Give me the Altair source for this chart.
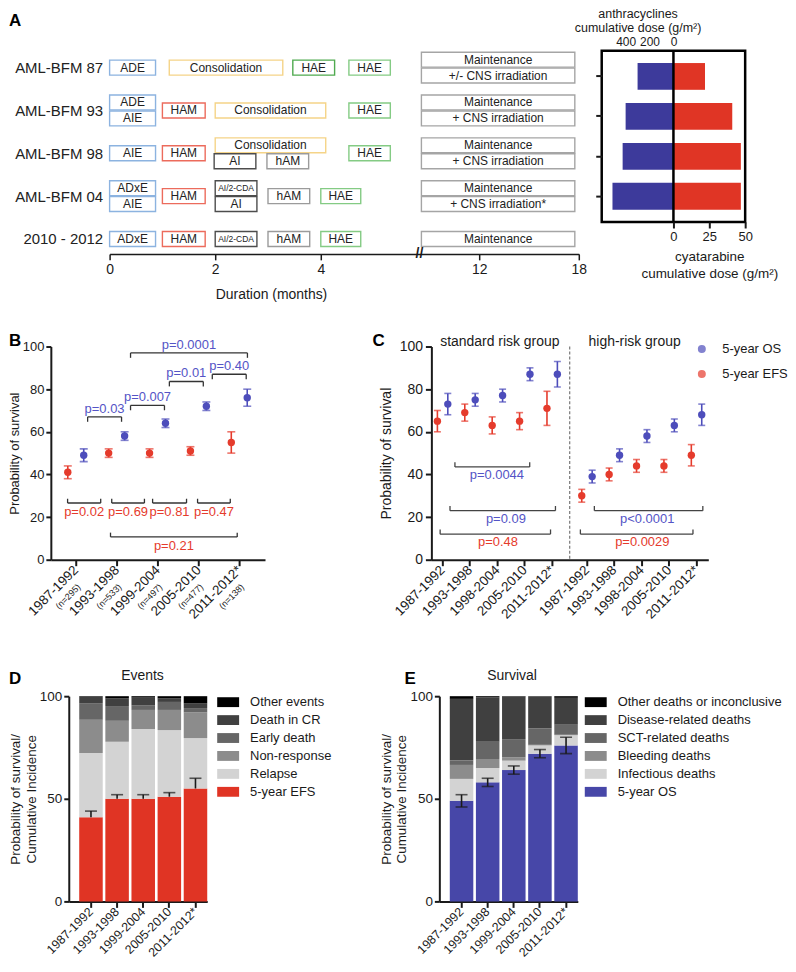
import json
import altair as alt
import numpy as np
import pandas as pd

FONT = "Liberation Sans"
INK = "#1a1a1a"
RED = "#E53B2C"
BLUE = "#4D4DBB"
PBLUE = "#5454C6"

# layout (page pixels)
P1 = 50          # top of the first row's plot areas
S1 = 30          # spacer between row 1 and row 2 bounding boxes
S2 = 48          # spacer between row 2 and row 3 bounding boxes
PAD_TOP = -4

# ===================== Panel A: treatment schema =====================
programs = ["AML-BFM 87", "AML-BFM 93", "AML-BFM 98", "AML-BFM 04", "2010 - 2012"]
blk_row = [0, 0, 0, 0, 0, 0,
           1, 1, 1, 1, 1, 1, 1,
           2, 2, 2, 2, 2, 2, 2, 2,
           3, 3, 3, 3, 3, 3, 3, 3, 3,
           4, 4, 4, 4, 4, 4]
blk_label = ["ADE", "Consolidation", "HAE", "HAE", "Maintenance", "+/- CNS irradiation",
             "ADE", "AIE", "HAM", "Consolidation", "HAE", "Maintenance", "+ CNS irradiation",
             "AIE", "HAM", "Consolidation", "AI", "hAM", "HAE", "Maintenance", "+ CNS irradiation",
             "ADxE", "AIE", "HAM", "AI/2-CDA", "AI", "hAM", "HAE", "Maintenance", "+ CNS irradiation*",
             "ADxE", "HAM", "AI/2-CDA", "hAM", "HAE", "Maintenance"]
blk_start = [0, 1.13, 3.47, 4.57, 6.2, 6.2,
             0, 0, 1.0, 2.0, 4.57, 6.2, 6.2,
             0, 1.0, 2.0, 1.98, 2.98, 4.57, 6.2, 6.2,
             0, 0, 1.0, 2.0, 2.0, 3.0, 4.0, 6.2, 6.2,
             0, 1.0, 2.0, 3.0, 4.0, 6.2]
blk_end = [0.87, 3.28, 4.28, 5.41, 17.76, 17.76,
           0.87, 0.87, 1.81, 4.1, 5.41, 17.76, 17.76,
           0.87, 1.81, 4.1, 2.77, 3.77, 5.41, 17.76, 17.76,
           0.87, 0.87, 1.81, 2.79, 2.79, 3.79, 4.81, 17.76, 17.76,
           0.87, 1.81, 2.79, 3.79, 4.81, 17.76]
blk_slot = ["full", "full", "full", "full", "top", "bottom",
            "top", "bottom", "full", "full", "full", "top", "bottom",
            "full", "full", "top", "bottom", "bottom", "full", "top", "bottom",
            "top", "bottom", "full", "top", "bottom", "full", "full", "top", "bottom",
            "full", "full", "full", "full", "full", "full"]
blk_kind = ["induction", "consolidation", "hae1", "hae", "maint", "maint",
            "induction", "induction", "ham", "consolidation", "hae", "maint", "maint",
            "induction", "ham", "consolidation", "ai", "ham_low", "hae", "maint", "maint",
            "induction", "induction", "ham", "ai", "ai", "ham_low", "hae", "maint", "maint",
            "induction", "ham", "ai", "ham_low", "hae", "maint"]
month_ticks = [0, 2, 4, 12, 18]
axis_break = [6]

# piecewise (broken) time axis
month_dom = [0, 4, 6, 12, 18]
px_rng = [5, 217, 316, 376, 476]

kind_color = {"induction": "#8CB3E0", "consolidation": "#F5D488", "hae1": "#4FAA4F",
              "hae": "#84CB84", "ham": "#EC6B5C", "ai": "#4D4D4D", "ham_low": "#9B9B9B",
              "maint": "#A5A5A5"}
slot_ext = {"full": (-0.175, 0.175), "top": (-0.36, -0.012), "bottom": (0.012, 0.36)}


def m2p(m):
    return np.interp(m, month_dom, px_rng)


def p2m(p):
    return np.interp(p, px_rng, month_dom)


sch = pd.DataFrame(dict(row=blk_row, label=blk_label, start=blk_start, end=blk_end,
                        slot=blk_slot, kind=blk_kind))
sch["y0"] = sch["row"] + sch["slot"].map(lambda s: slot_ext[s][0])
sch["y1"] = sch["row"] + sch["slot"].map(lambda s: slot_ext[s][1])
sch["yc"] = (sch["y0"] + sch["y1"]) / 2
sch["tx"] = p2m((m2p(sch["start"]) + m2p(sch["end"])) / 2)
sch["fs"] = np.where(sch["label"] == "AI/2-CDA", 8.5, 12)
sch["col"] = sch["kind"].map(kind_color)


def letter(ch, x, y):
    return alt.Chart(pd.DataFrame({"t": [ch]})).mark_text(
        fontSize=17, fontWeight="bold", align="left", baseline="top", color="black"
    ).encode(text="t:N", x=alt.value(x), y=alt.value(y))


def heading(txt, x, y):
    return alt.Chart(pd.DataFrame({"t": [txt]})).mark_text(
        fontSize=14, align="center", baseline="middle", color=INK
    ).encode(text="t:N", x=alt.value(x), y=alt.value(y))


SCH_H = 254 - P1
row0_off = (67 - P1) / 43.0
sx = alt.Scale(domain=month_dom, range=px_rng, nice=False, zero=False)
sy = alt.Scale(domain=[-row0_off, (254 - 67) / 43.0], reverse=True, nice=False, zero=False)
ax_sx = alt.Axis(values=month_ticks, format="d", labelFontSize=14, tickSize=6, tickWidth=1.5,
                 domainWidth=1.5, labelPadding=3, title="Duration (months)", titleFontSize=14,
                 titleX=167, titleY=34, titleBaseline="top", titleAlign="center")
ax_sy = alt.Axis(values=list(range(len(programs))),
                 labelExpr=json.dumps(programs) + "[round(datum.value)]",
                 domain=False, ticks=False, labelFontSize=15, labelPadding=2, title=None,
                 labelColor="#222222")

sbase = alt.Chart(sch)
boxes = sbase.mark_rect(fill="white", strokeWidth=1.4).encode(
    x=alt.X("start:Q", scale=sx, axis=ax_sx), x2="end:Q",
    y=alt.Y("y0:Q", scale=sy, axis=ax_sy), y2="y1:Q",
    stroke=alt.Stroke("col:N", scale=None))
btxt = sbase.mark_text(baseline="middle", align="center", color="#222222").encode(
    x=alt.X("tx:Q", scale=sx, axis=ax_sx), y=alt.Y("yc:Q", scale=sy, axis=ax_sy),
    text="label:N", size=alt.Size("fs:Q", scale=None))
brk = alt.Chart(pd.DataFrame({"m": axis_break})).mark_text(
    text="//", fontSize=14, fontWeight="bold", color=INK, baseline="middle").encode(
    x=alt.X("m:Q", scale=sx, axis=ax_sx), y=alt.value(SCH_H))
schema = alt.layer(boxes, btxt, brk, letter("A", 8 - 104, 12 - P1)).properties(width=486, height=SCH_H)

# ===================== Panel A: cumulative doses =====================
dose_programs = ["AML-BFM 87", "AML-BFM 93", "AML-BFM 98", "AML-BFM 04"]
anthra_dose = [300, 400, 425, 510]
cytarabine_dose = [22, 41, 47, 47]
dose_df = pd.DataFrame({"prog": dose_programs, "anthra": anthra_dose, "cyta": cytarabine_dose})

DOSE_H = 222 - P1
sy_d = alt.Scale(domain=dose_programs, paddingInner=0.33, paddingOuter=0.31)
ax_yd = alt.Axis(labels=False, domain=False, tickSize=6, title=None)
sx_anth = alt.Scale(domain=[0, 600], range=[72, 0], nice=False, zero=True)
sx_cyt = alt.Scale(domain=[0, 50], range=[72, 144], nice=False, zero=True)
ax_anth = alt.Axis(orient="top", values=[0, 200, 400], domain=False, ticks=False, labelFontSize=12,
                   labelPadding=2, title=["anthracyclines", "cumulative dose (g/m²)"],
                   titleFontSize=12.5, titleLineHeight=14, titlePadding=1)
ax_cyt = alt.Axis(orient="bottom", values=[0, 25, 50], domain=False, tickSize=6, labelFontSize=13,
                  labelPadding=3, title=["cyatarabine", "cumulative dose (g/m²)"],
                  titleFontSize=13.5, titleLineHeight=17, titlePadding=6)

blue_bars = alt.Chart(dose_df).mark_bar(color="#3D3A9B").encode(
    x=alt.X("anthra:Q", scale=sx_anth, axis=ax_anth),
    y=alt.Y("prog:N", scale=sy_d, axis=ax_yd))
red_bars = alt.Chart(dose_df).mark_bar(color="#E03525").encode(
    x=alt.X("cyta:Q", scale=sx_cyt, axis=ax_cyt),
    y=alt.Y("prog:N", scale=sy_d, axis=ax_yd))
zero_line = alt.Chart(pd.DataFrame({"cyta": [0]})).mark_rule(color="black", strokeWidth=2.5).encode(
    x=alt.X("cyta:Q", scale=sx_cyt, axis=ax_cyt))
dose = alt.layer(blue_bars, alt.layer(red_bars, zero_line)).resolve_scale(x="independent").properties(
    width=144, height=DOSE_H, view=alt.ViewBackground(stroke="black", strokeWidth=2.5))

# ===================== Panel B =====================
b_periods = ["1987-1992", "1993-1998", "1999-2004", "2005-2010", "2011-2012*"]
b_n = ["(n=295)", "(n=533)", "(n=497)", "(n=477)", "(n=138)"]
b_efs = [41, 50, 50, 51, 55]
b_efs_lo = [38, 48, 48, 49, 50]
b_efs_hi = [44, 52, 52, 53, 60]
b_os = [49, 58, 64, 72, 76]
b_os_lo = [46, 56, 62, 70, 72]
b_os_hi = [52, 60, 66, 74, 80]

b_br_x1 = [0.29, 1.34, 2.29, 3.34, 1.34, -0.2, 0.88, 1.88, 2.98, 0.85]
b_br_x2 = [1.12, 2.17, 3.12, 4.17, 4.2, 0.61, 1.68, 2.71, 3.78, 3.95]
b_br_y = [67, 72.4, 83.6, 87, 97, 26.6, 26.6, 26.6, 26.6, 10.7]
b_br_lab = ["p=0.03", "p=0.007", "p=0.01", "p=0.40", "p=0.0001",
            "p=0.02", "p=0.69", "p=0.81", "p=0.47", "p=0.21"]
b_br_grp = ["OS"] * 5 + ["EFS"] * 5

ser_color = {"OS": BLUE, "EFS": RED}
lab_color = {"OS": PBLUE, "EFS": RED}
ser_off = {"OS": 0.195, "EFS": -0.195}


def points_df(idx, vals, los, his, ser, shift=0.0, off=None):
    off = off or ser_off
    return pd.DataFrame({"x": [i + shift + off[ser] for i in idx], "y": vals, "lo": los, "hi": his,
                         "hex": ser_color[ser], "series": "5-year " + ser})


def bracket_segments(x1s, x2s, ys, grps, tick_sign):
    rows = []
    for x1, x2, y, g in zip(x1s, x2s, ys, grps):
        t = tick_sign[g]
        rows.append({"x": x1, "x2": x2, "y": y, "y2": y})
        rows.append({"x": x1, "x2": x1, "y": y, "y2": y + t})
        rows.append({"x": x2, "x2": x2, "y": y, "y2": y + t})
    return pd.DataFrame(rows)


bpts = pd.concat([points_df(range(5), b_efs, b_efs_lo, b_efs_hi, "EFS"),
                  points_df(range(5), b_os, b_os_lo, b_os_hi, "OS")])
bseg = bracket_segments(b_br_x1, b_br_x2, b_br_y, b_br_grp, {"OS": -2.3, "EFS": 2.0})
blab = pd.DataFrame({"x": [(a + b) / 2 for a, b in zip(b_br_x1, b_br_x2)],
                     "y": [y + (3.9 if g == "OS" else -4.4) for y, g in zip(b_br_y, b_br_grp)],
                     "t": b_br_lab, "hex": [lab_color[g] for g in b_br_grp]})
bn = pd.DataFrame({"x": [i + 0.08 for i in range(5)], "t": b_n})

sx_b = alt.Scale(domain=[-0.61, 4.63], nice=False, zero=False)
sy_b = alt.Scale(domain=[0, 100], nice=False)
ax_xb = alt.Axis(values=list(range(5)), labelExpr=json.dumps(b_periods) + "[round(datum.value)]",
                 labelAngle=315, labelAlign="right", labelBaseline="middle", labelFontSize=13.5,
                 tickSize=6, labelPadding=2, title=None)
ax_yb = alt.Axis(values=[0, 20, 40, 60, 80, 100], labelFontSize=13, tickSize=5, labelPadding=2,
                 title="Probability of survival", titleFontSize=13, titlePadding=1)


def XB(f):
    return alt.X(f, scale=sx_b, axis=ax_xb)


def YB(f):
    return alt.Y(f, scale=sy_b, axis=ax_yb)


b_err = alt.Chart(bpts).mark_rule(strokeWidth=1.6).encode(
    x=XB("x:Q"), y=YB("lo:Q"), y2="hi:Q", color=alt.Color("hex:N", scale=None))
b_cap_lo = alt.Chart(bpts).mark_tick(orient="horizontal", size=8, thickness=1.6).encode(
    x=XB("x:Q"), y=YB("lo:Q"), color=alt.Color("hex:N", scale=None))
b_cap_hi = alt.Chart(bpts).mark_tick(orient="horizontal", size=8, thickness=1.6).encode(
    x=XB("x:Q"), y=YB("hi:Q"), color=alt.Color("hex:N", scale=None))
b_pt = alt.Chart(bpts).mark_circle(size=55, opacity=1).encode(
    x=XB("x:Q"), y=YB("y:Q"), color=alt.Color("hex:N", scale=None))
b_br = alt.Chart(bseg).mark_rule(color="#333333", strokeWidth=1.3).encode(
    x=XB("x:Q"), x2="x2:Q", y=YB("y:Q"), y2="y2:Q")
b_tx = alt.Chart(blab).mark_text(fontSize=13, baseline="middle").encode(
    x=XB("x:Q"), y=YB("y:Q"), text="t:N", color=alt.Color("hex:N", scale=None))
b_nt = alt.Chart(bn).mark_text(fontSize=9, angle=315, align="right", baseline="middle", color=INK).encode(
    x=XB("x:Q"), y=alt.value(240), text="t:N")
panelB = alt.layer(b_br, b_err, b_cap_lo, b_cap_hi, b_pt, b_tx, b_nt, letter("B", 8 - 50, -14)).properties(
    width=215, height=214)

# ===================== Panel C =====================
c_periods = ["1987-1992", "1993-1998", "1998-2004", "2005-2010", "2011-2012*"]
c_groups = ["standard risk group", "high-risk group"]
c_sr_efs = [65, 69, 63, 65, 71]
c_sr_efs_lo = [60, 65, 59, 61, 63]
c_sr_efs_hi = [70, 73, 67, 69, 79]
c_sr_os = [73, 75, 77, 87, 87]
c_sr_os_lo = [68, 72, 74, 84, 81]
c_sr_os_hi = [78, 78, 80, 90, 93]
c_hr_efs = [30, 40, 44, 44, 49]
c_hr_efs_lo = [27, 37, 41, 41, 44]
c_hr_efs_hi = [33, 43, 47, 47, 54]
c_hr_os = [39, 49, 58, 63, 68]
c_hr_os_lo = [36, 46, 55, 60, 63]
c_hr_os_hi = [42, 52, 61, 66, 73]

c_br_x1 = [0.46, 0.28, -0.08, 5.55, 5.04]
c_br_x2 = [3.19, 4.13, 3.95, 9.51, 9.15]
c_br_y = [43.5, 23, 12, 23, 12]
c_br_lab = ["p=0.0044", "p=0.09", "p=0.48", "p<0.0001", "p=0.0029"]
c_br_grp = ["OS", "OS", "EFS", "OS", "EFS"]
c_br_lx = [1.99, 2.32, 2.03, 7.48, 7.3]

HR_SHIFT = 5.27
c_off = {"OS": 0.2, "EFS": -0.18}
cpts = pd.concat([
    points_df(range(5), c_sr_efs, c_sr_efs_lo, c_sr_efs_hi, "EFS", 0, c_off),
    points_df(range(5), c_sr_os, c_sr_os_lo, c_sr_os_hi, "OS", 0, c_off),
    points_df(range(5), c_hr_efs, c_hr_efs_lo, c_hr_efs_hi, "EFS", HR_SHIFT, c_off),
    points_df(range(5), c_hr_os, c_hr_os_lo, c_hr_os_hi, "OS", HR_SHIFT, c_off),
])
cseg = bracket_segments(c_br_x1, c_br_x2, c_br_y, c_br_grp, {"OS": 2.2, "EFS": 2.2})
clab = pd.DataFrame({"x": c_br_lx, "y": [y - 3.7 for y in c_br_y], "t": c_br_lab,
                     "hex": [lab_color[g] for g in c_br_grp]})
cgrp = pd.DataFrame({"x": [2.1, 7.02], "y": [102, 102], "t": c_groups})
c_div = pd.DataFrame({"x": [4.65]})

c_ticks = [float(i) for i in range(5)] + [i + HR_SHIFT for i in range(5)]
sx_c = alt.Scale(domain=[-0.4, 9.71], nice=False, zero=False)
ax_xc = alt.Axis(values=c_ticks,
                 labelExpr="datum.value < 4.65 ? " + json.dumps(c_periods) + "[round(datum.value)] : "
                           + json.dumps(c_periods) + "[round(datum.value - " + str(HR_SHIFT) + ")]",
                 labelAngle=315, labelAlign="right", labelBaseline="middle", labelFontSize=13.5,
                 tickSize=6, labelPadding=2, title=None)
ax_yc = alt.Axis(values=[0, 20, 40, 60, 80, 100], labelFontSize=14, tickSize=6, labelPadding=3,
                 title="Probability of survival", titleFontSize=14, titlePadding=6)


def XC(f):
    return alt.X(f, scale=sx_c, axis=ax_xc)


def YC(f):
    return alt.Y(f, scale=sy_b, axis=ax_yc)


c_dv = alt.Chart(c_div).mark_rule(color="#777777", strokeWidth=1.2, strokeDash=[3, 2]).encode(x=XC("x:Q"))
c_err = alt.Chart(cpts).mark_rule(strokeWidth=1.6).encode(
    x=XC("x:Q"), y=YC("lo:Q"), y2="hi:Q", color=alt.Color("hex:N", scale=None))
c_cap_lo = alt.Chart(cpts).mark_tick(orient="horizontal", size=7, thickness=1.6).encode(
    x=XC("x:Q"), y=YC("lo:Q"), color=alt.Color("hex:N", scale=None))
c_cap_hi = alt.Chart(cpts).mark_tick(orient="horizontal", size=7, thickness=1.6).encode(
    x=XC("x:Q"), y=YC("hi:Q"), color=alt.Color("hex:N", scale=None))
c_pt = alt.Chart(cpts).mark_circle(size=55, opacity=1).encode(
    x=XC("x:Q"), y=YC("y:Q"),
    color=alt.Color("series:N", scale=alt.Scale(domain=["5-year OS", "5-year EFS"], range=[BLUE, RED]),
                    legend=alt.Legend(orient="none", legendX=265, legendY=-4, title=None,
                                      symbolType="circle", symbolSize=64, labelFontSize=13,
                                      labelOffset=14, rowPadding=11, labelColor=INK)))
c_br = alt.Chart(cseg).mark_rule(color="#444444", strokeWidth=1.3).encode(
    x=XC("x:Q"), x2="x2:Q", y=YC("y:Q"), y2="y2:Q")
c_tx = alt.Chart(clab).mark_text(fontSize=13, baseline="middle").encode(
    x=XC("x:Q"), y=YC("y:Q"), text="t:N", color=alt.Color("hex:N", scale=None))
c_gt = alt.Chart(cgrp).mark_text(fontSize=14, baseline="middle", color=INK).encode(
    x=XC("x:Q"), y=YC("y:Q"), text="t:N")
panelC = alt.layer(c_dv, c_br, c_err, c_cap_lo, c_cap_hi, c_pt, c_tx, c_gt, letter("C", 373 - 432, -14)).properties(
    width=278, height=214)

# ===================== Panels D and E =====================
de_periods = ["1987-1992", "1993-1998", "1999-2004", "2005-2010", "2011-2012*"]

d_cats = ["Other events", "Death in CR", "Early death", "Non-response", "Relapse", "5-year EFS"]
d_top_efs = [41, 50, 50, 51, 55]
d_top_relapse = [72.3, 77.8, 84, 83.5, 79.6]
d_top_nonresp = [88.5, 88, 93.3, 93.3, 92.1]
d_top_early = [96.6, 95.2, 95.6, 97.2, 94.2]
d_top_dcr = [99.7, 99, 99.3, 99, 96.6]
d_top_other = [100, 100, 100, 100, 100]
d_efs_hi = [44, 52, 52, 53, 60]

e_cats = ["Other deaths or inconclusive", "Disease-related deaths", "SCT-related deaths",
          "Bleeding deaths", "Infectious deaths", "5-year OS"]
e_top_os = [49, 58, 64, 72, 76]
e_top_inf = [59.7, 65, 68.6, 76, 81]
e_top_bleed = [66.5, 69.4, 70.2, 76.3, 81.2]
e_top_sct = [68.6, 77.8, 79.1, 84.3, 86.1]
e_top_dis = [98.7, 99.5, 99.8, 100, 99.2]
e_top_other = [100, 100, 100, 100, 100]
e_os_lo = [46, 56, 62, 70, 72]
e_os_hi = [52, 60, 66, 74, 80]

grays = ["#000000", "#404040", "#666666", "#8C8C8C", "#D3D3D3"]


def stack_df(cats, tops):
    rows = []
    for j, p in enumerate(de_periods):
        lo = 0.0
        for cat, top in zip(cats[::-1], tops):
            rows.append({"period": p, "cat": cat, "y0": lo, "y1": top[j]})
            lo = top[j]
    return pd.DataFrame(rows)


d_stack = stack_df(d_cats, [d_top_efs, d_top_relapse, d_top_nonresp, d_top_early, d_top_dcr, d_top_other])
e_stack = stack_df(e_cats, [e_top_os, e_top_inf, e_top_bleed, e_top_sct, e_top_dis, e_top_other])
d_err = pd.DataFrame({"period": de_periods, "lo": d_top_efs, "hi": d_efs_hi})
e_err = pd.DataFrame({"period": de_periods, "lo": e_os_lo, "hi": e_os_hi})

sx_de = alt.Scale(domain=de_periods, paddingInner=0.1, paddingOuter=0.2, align=1)
ax_xde = alt.Axis(labelAngle=315, labelAlign="right", labelBaseline="middle", labelFontSize=12.5,
                  tickSize=6, labelPadding=2, title=None)
sy_de = alt.Scale(domain=[0, 100], nice=False)
ax_yde = alt.Axis(values=[0, 50, 100], labelFontSize=13.5, tickSize=5, labelPadding=2,
                  title=["Probability of survival/", "Cumulative Incidence"], titleFontSize=13.5,
                  titleLineHeight=16, titlePadding=1)
RECT = "M-1,-0.45L1,-0.45L1,0.45L-1,0.45Z"


def stacked_panel(stack, err, cats, top_color, title, title_x, two_sided, letter_ch, letter_x, leg_x):
    bars = alt.Chart(stack).mark_bar().encode(
        x=alt.X("period:N", scale=sx_de, axis=ax_xde),
        y=alt.Y("y0:Q", scale=sy_de, axis=ax_yde), y2="y1:Q",
        color=alt.Color("cat:N", scale=alt.Scale(domain=cats, range=grays + [top_color]),
                        legend=alt.Legend(orient="none", legendX=leg_x, legendY=-5, title=None,
                                          symbolType=RECT, symbolSize=484, symbolStrokeWidth=0,
                                          labelFontSize=13, labelOffset=11, rowPadding=0,
                                          labelLimit=300, labelColor=INK)))
    e_rule = alt.Chart(err).mark_rule(color=INK, strokeWidth=1.6).encode(
        x=alt.X("period:N", scale=sx_de, axis=ax_xde),
        y=alt.Y("lo:Q", scale=sy_de, axis=ax_yde), y2="hi:Q")
    caps = [alt.Chart(err).mark_tick(color=INK, size=12, thickness=1.6).encode(
        x=alt.X("period:N", scale=sx_de, axis=ax_xde), y=alt.Y("hi:Q", scale=sy_de, axis=ax_yde))]
    if two_sided:
        caps.append(alt.Chart(err).mark_tick(color=INK, size=12, thickness=1.6).encode(
            x=alt.X("period:N", scale=sx_de, axis=ax_xde), y=alt.Y("lo:Q", scale=sy_de, axis=ax_yde)))
    return alt.layer(bars, e_rule, *caps, letter(letter_ch, letter_x, -25),
                     heading(title, title_x, -20)).properties(width=139, height=206)


panelD = stacked_panel(d_stack, d_err, d_cats, "#E03424", "Events", 74, False, "D", 8 - 68, 149)
panelE = stacked_panel(e_stack, e_err, e_cats, "#4747A8", "Survival", 73, True, "E", 405 - 440, 146)


# ===================== Layout =====================
def spacer(w, h):
    return alt.Chart(pd.DataFrame({"z": [0]})).mark_rect(opacity=0).encode(
        x=alt.value(0), x2=alt.value(w), y=alt.value(0), y2=alt.value(h)).properties(width=w, height=h)


row1 = alt.hconcat(spacer(104 - 8 - 13, 10), schema, dose, spacing=13, bounds="flush")
inner2 = alt.hconcat(panelB, panelC, spacing=167, bounds="flush").resolve_scale(color="independent")
row2 = alt.hconcat(spacer(50 - 8, 10), inner2, spacing=0, bounds="flush").resolve_scale(color="independent")
inner3 = alt.hconcat(panelD, panelE, spacing=233, bounds="flush").resolve_scale(color="independent")
row3 = alt.hconcat(spacer(68 - 8, 10), inner3, spacing=0, bounds="flush").resolve_scale(color="independent")

chart = alt.vconcat(row1, spacer(1, S1), row2, spacer(1, S2), row3, spacing=0).resolve_scale(
    color="independent").properties(
    padding={"top": PAD_TOP, "left": 0, "right": 0, "bottom": 0}).configure(font=FONT).configure_view(
    stroke=None).configure_axis(
    domainColor=INK, domainWidth=2, tickColor=INK, tickWidth=2, labelColor=INK, titleColor=INK,
    grid=False, labelFlush=False, labelOverlap=False, titleFontWeight="normal", labelFont=FONT,
    titleFont=FONT).configure_text(font=FONT).configure_title(font=FONT).configure_legend(labelFont=FONT)

chart.save("out.html", embed_options={"renderer": "svg", "actions": False})
